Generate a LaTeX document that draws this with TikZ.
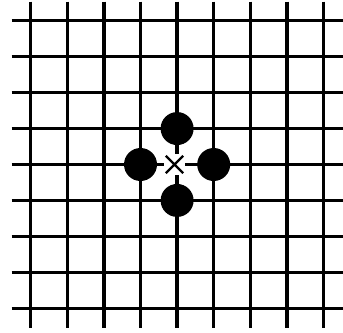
\documentclass[tikz,border=0pt]{standalone}
\usepackage{tikz}
\usetikzlibrary{positioning, shapes.misc}

\tikzset{
  stone/.style={circle, fill=black, inner sep=0pt, minimum size=33pt},
  gap/.style={fill=white, inner sep=0pt, minimum size=21pt},
  xcross/.style={cross out, draw, line width=2.4pt, inner sep=0pt, minimum size=15pt}
}

\begin{document}
\begin{tikzpicture}[x=36.6pt, y=-35.95pt, line width=3.3pt]
  \useasboundingbox (-0.839,-0.576) rectangle (8.533,8.687);
  \foreach \i in {0,...,8} {
    \draw (\i,-0.53) -- (\i,8.55);
    \draw (-0.52,\i) -- (8.6,\i);
  }

  % four stones round the centre point
  \node[stone] (up) at (4,3) {};
  \node[stone] (left) at (3,4) {};
  \node[stone] (right) at (5,4) {};
  \node[stone] (down) at (4,5) {};

  % centre point
  \node[gap] (pt) at (3.93,4) {};
  \node[xcross] (cross) at (pt) {};
\end{tikzpicture}
\end{document}
